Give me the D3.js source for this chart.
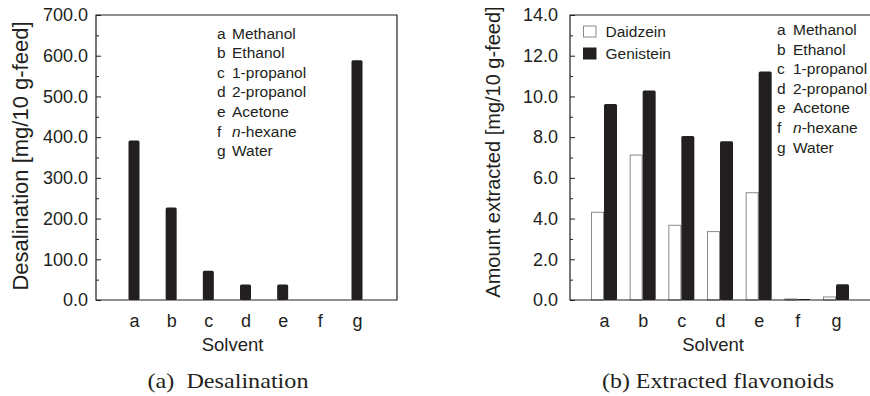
<!DOCTYPE html>
<html>
<head>
<meta charset="utf-8">
<script src="https://cdn.jsdelivr.net/npm/d3@7"></script>
<style>
    body { margin: 0; background: #fff; }
    svg { display: block; }
    text { font-family: "Liberation Sans", Arial, sans-serif; fill: #231f20; }
    .caption { font-family: "Liberation Serif", "Times New Roman", serif; white-space: pre; }
</style>
</head>
<body>
<div class="canvas"><svg width="870" height="396"></svg></div>
<script>
var width = 870;
var height = 396;
var ink = "#231f20";

// data
var categories = ["a", "b", "c", "d", "e", "f", "g"];
var solventNames = ["Methanol", "Ethanol", "1-propanol", "2-propanol", "Acetone", "n-hexane", "Water"];
var desalination = [392, 227, 72, 38, 38, 0, 589];
var series = ["Daidzein", "Genistein"];
var daidzein = [4.31, 7.12, 3.67, 3.36, 5.27, 0.05, 0.15];
var genistein = [9.63, 10.29, 8.06, 7.80, 11.22, 0.05, 0.77];
var ticksA = [0, 100, 200, 300, 400, 500, 600, 700];
var minorA = [50, 150, 250, 350, 450, 550, 650];
var ticksB = [0, 2, 4, 6, 8, 10, 12, 14];
var minorB = [1, 3, 5, 7, 9, 11, 13];

var svg = d3.select(".canvas").select("svg");

function frame(g, x0, x1, y0, y1) {
    g.append("path")
        .attr("d", "M" + x0 + "," + y1 + "V" + y0 + "H" + x1 + "V" + y1 + "Z")
        .style("fill", "none")
        .style("stroke", ink)
        .style("stroke-width", 1.2);
}

function yAxes(g, x0, scale, major, minor, pad) {
    g.append("g").attr("class", "axis")
        .attr("transform", "translate(" + x0 + ",0)")
        .call(d3.axisLeft(scale).tickValues(major).tickSizeInner(-5).tickSizeOuter(0)
            .tickPadding(pad).tickFormat(d3.format(".1f")))
        .call(function(a){
            a.select(".domain").remove();
            a.selectAll("line").style("stroke", ink);
            a.selectAll("text").style("font-size", "18px").style("font-family", null).style("fill", ink);
        });
    g.append("g").attr("class", "axis")
        .attr("transform", "translate(" + x0 + ",0)")
        .call(d3.axisLeft(scale).tickValues(minor).tickSizeInner(-3).tickSizeOuter(0).tickFormat(""))
        .call(function(a){
            a.select(".domain").remove();
            a.selectAll("line").style("stroke", ink);
        });
}

function xAxis(g, y0, scale) {
    g.append("g").attr("class", "axis")
        .attr("transform", "translate(0," + y0 + ")")
        .call(d3.axisBottom(scale).tickSize(0).tickPadding(14.5))
        .call(function(a){
            a.select(".domain").remove();
            a.selectAll("text").style("font-size", "18px").style("font-family", null).style("fill", ink);
        });
}

function solventLegend(g, xLetter, xName, y0) {
    var rows = g.selectAll(".solvent")
        .data(categories)
        .enter()
        .append("text")
        .attr("class", "solvent")
        .attr("y", function(d, i){ return y0 + i * 19.6; })
        .style("font-size", "15.5px");
    rows.append("tspan").attr("x", xLetter).text(function(d){ return d; });
    rows.append("tspan").attr("x", xName)
        .each(function(d, i){
            var t = d3.select(this);
            var name = solventNames[i];
            if (name.indexOf("n-") == 0) {
                t.append("tspan").style("font-style", "italic").text("n");
                t.append("tspan").text(name.slice(1));
            } else {
                t.text(name);
            }
        });
}

//(a) Desalination
var ga = svg.append("g");
var xA = d3.scalePoint().domain(categories).range([134, 357]);
var yA = d3.scaleLinear().domain([0, 700]).range([300, 15]);

ga.selectAll(".bar")
    .data(desalination)
    .enter()
    .append("rect")
    .attr("class", "bar")
    .attr("x", function(d, i){ return xA(categories[i]) - 5.5; })
    .attr("width", 11)
    .attr("y", function(d){ return yA(d); })
    .attr("height", function(d){ return yA(0) - yA(d); })
    .attr("rx", 1.5)
    .style("fill", ink);

frame(ga, 96, 397, 15, 300);
yAxes(ga, 96, yA, ticksA, minorA, 8);
xAxis(ga, 300, xA);
solventLegend(ga, 217, 232, 38.5);

ga.append("text")
    .attr("transform", "translate(28,156) rotate(-90)")
    .attr("text-anchor", "middle")
    .style("font-size", "22px")
    .text("Desalination [mg/10 g-feed]");

ga.append("text")
    .attr("x", 232.5).attr("y", 350.5)
    .attr("text-anchor", "middle")
    .style("font-size", "18.5px")
    .text("Solvent");

ga.append("text")
    .attr("class", "caption")
    .attr("x", 228).attr("y", 388)
    .attr("text-anchor", "middle")
    .attr("textLength", 161)
    .attr("lengthAdjust", "spacingAndGlyphs")
    .style("font-size", "21px")
    .text("(a)  Desalination");

//(b) Extracted flavonoids
var gb = svg.append("g");
var xB = d3.scalePoint().domain(categories).range([604, 836]);
var xSub = d3.scaleBand().domain(series).range([-13, 13]);
var yB = d3.scaleLinear().domain([0, 14]).range([300, 15]);
var fillB = d3.scaleOrdinal().domain(series).range(["#ffffff", ink]);
var strokeB = d3.scaleOrdinal().domain(series).range(["#8a8a8a", ink]);

var rowsB = categories.map(function(c, i){
    return [{key: "Daidzein", cat: c, value: daidzein[i]},
            {key: "Genistein", cat: c, value: genistein[i]}];
});

gb.selectAll(".group")
    .data(rowsB)
    .enter()
    .append("g")
    .attr("class", "group")
    .attr("transform", function(d){ return "translate(" + xB(d[0].cat) + ",0)"; })
    .selectAll("rect")
    .data(function(d){ return d; })
    .enter()
    .append("rect")
    .attr("x", function(d){ return xSub(d.key) + (d.key == "Daidzein" ? 0.5 : 0); })
    .attr("width", function(d){ return xSub.bandwidth() - (d.key == "Daidzein" ? 1 : 0); })
    .attr("y", function(d){ return yB(d.value); })
    .attr("height", function(d){ return yB(0) - yB(d.value); })
    .attr("rx", function(d){ return d.key == "Genistein" ? 1.5 : 0; })
    .style("fill", function(d){ return fillB(d.key); })
    .style("stroke", function(d){ return d.key == "Daidzein" ? strokeB(d.key) : "none"; })
    .style("stroke-width", 1);

frame(gb, 570, 876, 15, 300);
yAxes(gb, 570, yB, ticksB, minorB, 12);
xAxis(gb, 300, xB);
solventLegend(gb, 777, 793, 35);

var legB = gb.selectAll(".legend")
    .data(series)
    .enter()
    .append("g")
    .attr("class", "legend")
    .attr("transform", function(d, i){ return "translate(583," + (25.5 + i * 22) + ")"; });
legB.append("rect")
    .attr("x", 0.5).attr("y", 0.5)
    .attr("width", 12.5).attr("height", 11)
    .style("fill", function(d){ return fillB(d); })
    .style("stroke", function(d){ return strokeB(d); });
legB.append("text")
    .attr("x", 22.5).attr("y", 11.2)
    .style("font-size", "15.5px")
    .text(function(d){ return d; });

gb.append("text")
    .attr("transform", "translate(500,152) rotate(-90)")
    .attr("text-anchor", "middle")
    .style("font-size", "20px")
    .text("Amount extracted [mg/10 g-feed]");

gb.append("text")
    .attr("x", 713).attr("y", 350.5)
    .attr("text-anchor", "middle")
    .style("font-size", "18.5px")
    .text("Solvent");

gb.append("text")
    .attr("class", "caption")
    .attr("x", 718).attr("y", 388)
    .attr("text-anchor", "middle")
    .attr("textLength", 232)
    .attr("lengthAdjust", "spacingAndGlyphs")
    .style("font-size", "21px")
    .text("(b) Extracted flavonoids");
</script>
</body>
</html>
